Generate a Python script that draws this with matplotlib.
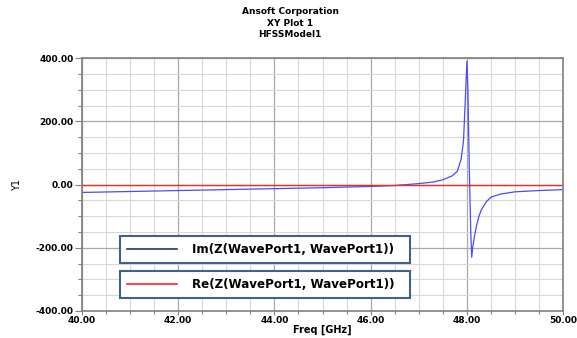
import matplotlib
matplotlib.use("Agg")
import matplotlib.pyplot as plt
from matplotlib.ticker import MultipleLocator
from matplotlib.lines import Line2D

plt.rcParams['font.family'] = ['DejaVu Sans']

# Im(Z) values
freq = [40.0, 41.0, 42.0, 43.0, 44.0, 45.0, 46.0, 46.5, 47.0, 47.3, 47.5, 47.7,
        47.8, 47.88, 47.93, 47.97, 48.0, 48.02, 48.05, 48.08, 48.1, 48.12,
        48.15, 48.2, 48.25, 48.3, 48.4, 48.5, 48.7, 49.0, 49.5, 50.0]
im_z = [-25, -22, -19, -16, -13, -10, -6, -3, 3, 8, 15, 28,
        42, 80, 140, 280, 390, 300, 50, -150, -230, -200,
        -170, -130, -100, -80, -55, -40, -30, -23, -19, -16]
re_z = [0.0] * len(freq)

labels = ["Im(Z(WavePort1, WavePort1))", "Re(Z(WavePort1, WavePort1))"]
title_lines = ["Ansoft Corporation", "XY Plot 1", "HFSSModel1"]

fig = plt.figure(figsize=(5.77, 3.38), dpi=100)
ax = fig.add_axes([0.142, 0.08, 0.834, 0.748])

ax.plot(freq, im_z, color='#4a4aff', lw=0.9)
ax.plot(freq, re_z, color='#e8302a', lw=1.0)

ax.set_xlim(40, 50)
ax.set_ylim(-400, 400)
ax.xaxis.set_major_locator(MultipleLocator(2))
ax.xaxis.set_minor_locator(MultipleLocator(0.5))
ax.yaxis.set_major_locator(MultipleLocator(200))
ax.yaxis.set_minor_locator(MultipleLocator(50))
ax.xaxis.set_major_formatter(lambda v, p: f"{v:.2f}")
ax.yaxis.set_major_formatter(lambda v, p: f"{v:.2f}")
ax.grid(which='major', color='#a8a8a8', lw=0.9)
ax.grid(which='minor', color='#d8d8d8', lw=0.8)
ax.set_axisbelow(True)
for s in ax.spines.values():
    s.set_color('#808080')
    s.set_linewidth(1.2)
ax.tick_params(which='both', colors='#808080', labelcolor='black', labelsize=6.5,
               length=5, width=0.8, pad=1)
ax.tick_params(which='minor', length=3)
ax.tick_params(axis='x', which='major', length=3, pad=0.5)
ax.tick_params(axis='x', which='minor', length=2)
for t in ax.get_xticklabels() + ax.get_yticklabels():
    t.set_fontweight('bold')
ax.set_xlabel("Freq [GHz]", fontsize=7, fontweight='bold', labelpad=0)
ax.set_ylabel("Y1", fontsize=7, labelpad=10)

fig.text(0.503, 0.978, "\n".join(title_lines), ha='center', va='top',
         fontsize=6.5, fontweight='bold', linespacing=1.3)

# two separate legend boxes
h_im = Line2D([], [], color='#203864', lw=1.2)
h_re = Line2D([], [], color='#ff2020', lw=1.2)
leg_kw = dict(mode='expand', fancybox=False, framealpha=1, handlelength=4.2,
              handletextpad=1.2, borderpad=0.6, borderaxespad=0,
              prop={'weight': 'bold', 'size': 8.6})
leg1 = ax.legend([h_im], [labels[0]], loc='lower left',
                 bbox_to_anchor=(0.079, 0.189, 0.603, 0.126), **leg_kw)
leg1.get_frame().set_edgecolor('#41618c')
leg1.get_frame().set_linewidth(1.5)
ax.add_artist(leg1)
leg2 = ax.legend([h_re], [labels[1]], loc='lower left',
                 bbox_to_anchor=(0.079, 0.051, 0.603, 0.122), **leg_kw)
leg2.get_frame().set_edgecolor('#41618c')
leg2.get_frame().set_linewidth(1.5)

fig.savefig("out.png", dpi=100)
